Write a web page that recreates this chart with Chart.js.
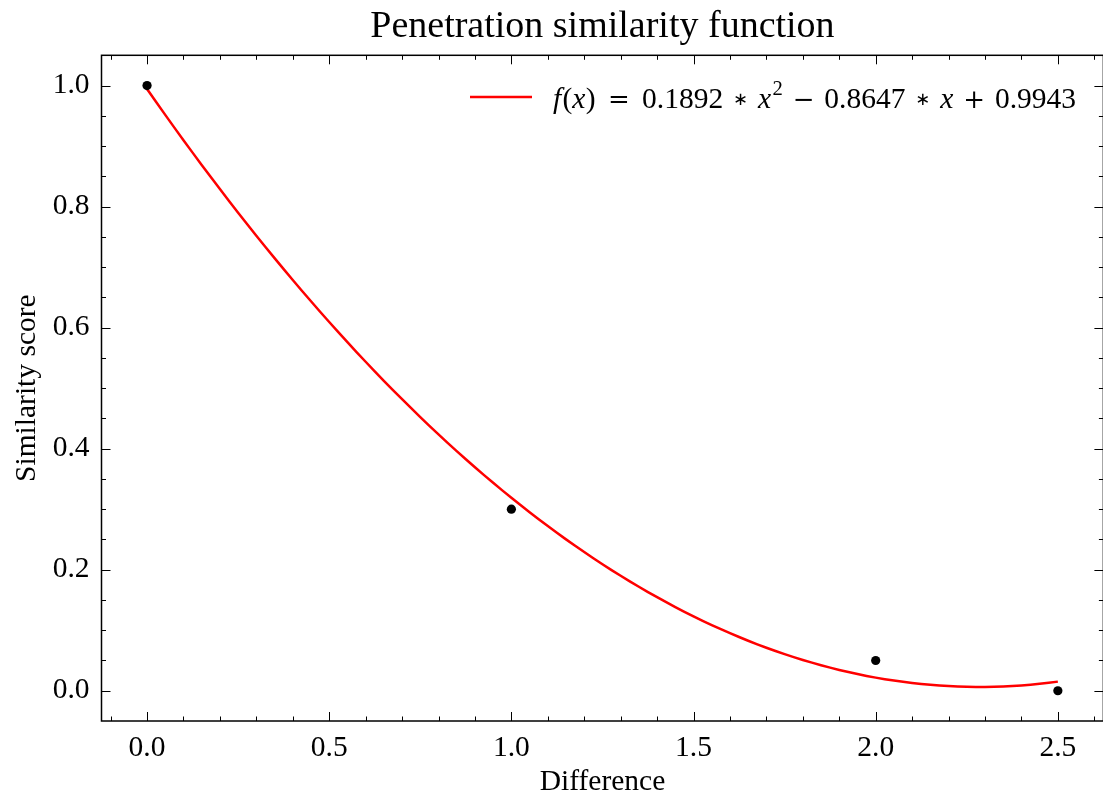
<!DOCTYPE html>
<html>
<head>
<meta charset="utf-8">
<script src="https://cdn.jsdelivr.net/npm/chart.js@4.4.1/dist/chart.umd.min.js"></script>
<style>
  html, body { margin: 0; padding: 0; background: #fff; overflow: hidden; }
  #wrap { position: relative; width: 1108px; height: 802px; }
</style>
</head>
<body>
<div id="wrap"><canvas id="chart"></canvas></div>
<script>
// Measured similarity scores
const diffValues = [0, 1, 2, 2.5];
const scoreValues = [1.0, 0.3, 0.05, 0.0];

// Quadratic fit: f(x) = a*x^2 + b*x + c
const fitCoeffs = [0.1892, -0.8647, 0.9943];
const fitRange = [0, 2.5];
const fitSteps = 100;

// Axis ticks
const xTicks = [0, 0.5, 1.0, 1.5, 2.0, 2.5];
const yTicks = [0, 0.2, 0.4, 0.6, 0.8, 1.0];
const xLimits = [-0.125, 2.625];
const yLimits = [-0.05, 1.05];
const xMinorStep = 0.1;
const yMinorStep = 0.05;

const SERIF = '"Liberation Serif", "Times New Roman", serif';
const FONT_SIZE = 29.5;

function fitValue(x) {
  return fitCoeffs[0] * x * x + fitCoeffs[1] * x + fitCoeffs[2];
}
const fitPoints = [];
for (let i = 0; i <= fitSteps; i++) {
  const x = fitRange[0] + (fitRange[1] - fitRange[0]) * i / fitSteps;
  fitPoints.push({ x: x, y: fitValue(x) });
}
const scorePoints = diffValues.map((x, i) => ({ x: x, y: scoreValues[i] }));

// Full box with inward major/minor ticks on all four sides
const framePlugin = {
  id: 'frame',
  afterDraw(chart) {
    const { ctx, chartArea: a, scales } = chart;
    const xs = scales.x, ys = scales.y;
    ctx.save();
    ctx.strokeStyle = '#000';
    ctx.lineWidth = 1;
    const majLen = 9, minLen = 4.5;
    const near = (v, arr) => arr.some(t => Math.abs(t - v) < 1e-6);
    const xMin = Math.ceil(xLimits[0] / xMinorStep) * xMinorStep;
    for (let v = xMin; v <= xLimits[1] + 1e-9; v += xMinorStep) {
      const vv = Math.round(v * 1000) / 1000;
      const px = Math.round(xs.getPixelForValue(vv)) + 0.5;
      const len = near(vv, xTicks) ? majLen : minLen;
      ctx.beginPath();
      ctx.moveTo(px, a.bottom); ctx.lineTo(px, a.bottom - len);
      ctx.moveTo(px, a.top); ctx.lineTo(px, a.top + len);
      ctx.stroke();
    }
    const yMin = Math.ceil(yLimits[0] / yMinorStep) * yMinorStep;
    for (let v = yMin; v <= yLimits[1] + 1e-9; v += yMinorStep) {
      const vv = Math.round(v * 1000) / 1000;
      if (Math.abs(vv - yLimits[0]) < 1e-6 || Math.abs(vv - yLimits[1]) < 1e-6) continue;
      const py = Math.round(ys.getPixelForValue(vv)) + 0.5;
      const len = near(vv, yTicks) ? majLen : minLen;
      ctx.beginPath();
      ctx.moveTo(a.left, py); ctx.lineTo(a.left + len, py);
      ctx.moveTo(a.right, py); ctx.lineTo(a.right - len, py);
      ctx.stroke();
    }
    ctx.lineWidth = 1.5;
    ctx.strokeRect(a.left, a.top, a.right - a.left, a.bottom - a.top);
    ctx.restore();
  }
};

// Legend inside the axes (upper right) showing the fitted equation
const legendPlugin = {
  id: 'eqLegend',
  afterDraw(chart) {
    const { ctx } = chart;
    const a = fitCoeffs[0].toFixed(4);
    const b = Math.abs(fitCoeffs[1]).toFixed(4);
    const c = fitCoeffs[2].toFixed(4);
    const bSign = fitCoeffs[1] < 0 ? '\u2212' : '+';
    const cSign = fitCoeffs[2] < 0 ? '\u2212' : '+';
    // [text, style, space before (relative units)]
    const pieces = [
      ['f', 'i', 0], ['(', 'r', 0.12], ['x', 'i', 0], [')', 'r', 0.05],
      ['=', 'rel', 1.25], [a, 'r', 1.25],
      ['\u2217', 'op', 1], ['x', 'i', 1], ['2', 'sup', 0.15],
      [bSign, 'rel', 1], [b, 'r', 1], ['\u2217', 'op', 1], ['x', 'i', 1],
      [cSign, 'rel', 1], [c, 'r', 1]
    ];
    const styles = {
      r:   { font: `${FONT_SIZE}px ${SERIF}`, dy: 0 },
      i:   { font: `italic ${FONT_SIZE}px ${SERIF}`, dy: 0 },
      rel: { font: `26px "DejaVu Serif", serif`, dy: 0 },
      sup: { font: `${FONT_SIZE * 0.7}px ${SERIF}`, dy: -13 },
      op:  { font: `18px "DejaVu Sans", sans-serif`, dy: -3 }
    };
    const startX = 553, endX = 1076;
    const baseY = 107.5;
    ctx.save();
    let glyphW = 0, gapUnits = 0;
    const widths = pieces.map(p => {
      ctx.font = styles[p[1]].font;
      const w = ctx.measureText(p[0]).width;
      glyphW += w; gapUnits += p[2];
      return w;
    });
    const unit = Math.max(0, (endX - startX - glyphW) / gapUnits);
    ctx.strokeStyle = '#ff0000';
    ctx.lineWidth = 2.5;
    ctx.beginPath();
    ctx.moveTo(470, 97); ctx.lineTo(532, 97);
    ctx.stroke();
    ctx.fillStyle = '#000';
    ctx.textBaseline = 'alphabetic';
    ctx.textAlign = 'left';
    let x = startX;
    pieces.forEach((p, i) => {
      const st = styles[p[1]];
      x += p[2] * unit;
      ctx.font = st.font;
      ctx.fillText(p[0], x, baseY + st.dy);
      x += widths[i];
    });
    ctx.restore();
  }
};

new Chart(document.getElementById('chart'), {
  type: 'scatter',
  data: {
    datasets: [
      {
        label: 'f(x) = 0.1892 * x^2 - 0.8647 * x + 0.9943',
        data: fitPoints,
        showLine: true,
        borderColor: '#ff0000',
        borderWidth: 2.5,
        pointRadius: 0,
        tension: 0,
        order: 2
      },
      {
        label: 'Similarity score',
        data: scorePoints,
        backgroundColor: '#000',
        borderColor: '#000',
        pointRadius: 4.6,
        borderWidth: 0,
        order: 1
      }
    ]
  },
  options: {
    responsive: true,
    maintainAspectRatio: false,
    animation: false,
    devicePixelRatio: 1,
    layout: { padding: { left: 0, right: 2.4, top: 0, bottom: 0 } },
    plugins: {
      legend: { display: false },
      tooltip: { enabled: false },
      title: {
        display: true,
        fullSize: false,
        text: 'Penetration similarity function',
        color: '#000',
        font: { family: SERIF, size: 38, weight: 'normal', lineHeight: 1.2 },
        padding: { top: 4, bottom: 5.7 }
      }
    },
    scales: {
      x: {
        type: 'linear',
        min: xLimits[0],
        max: xLimits[1],
        grid: { display: false, drawTicks: false },
        border: { display: false },
        afterBuildTicks: s => { s.ticks = xTicks.map(v => ({ value: v })); },
        afterFit: s => { s.height = 81; },
        ticks: {
          color: '#000',
          padding: 10,
          maxRotation: 0,
          font: { family: SERIF, size: FONT_SIZE },
          callback: v => Number(v).toFixed(1)
        },
        title: {
          display: true,
          text: 'Difference',
          color: '#000',
          font: { family: SERIF, size: FONT_SIZE },
          padding: { top: 0, bottom: 2 }
        }
      },
      y: {
        type: 'linear',
        min: yLimits[0],
        max: yLimits[1],
        grid: { display: false, drawTicks: false },
        border: { display: false },
        afterBuildTicks: s => { s.ticks = yTicks.map(v => ({ value: v })); },
        afterFit: s => { s.width = 101.5; },
        ticks: {
          color: '#000',
          padding: 12,
          font: { family: SERIF, size: FONT_SIZE },
          callback: v => Number(v).toFixed(1)
        },
        title: {
          display: true,
          text: 'Similarity score',
          color: '#000',
          font: { family: SERIF, size: FONT_SIZE },
          padding: { top: 10, bottom: 0 }
        }
      }
    }
  },
  plugins: [framePlugin, legendPlugin]
});
</script>
</body>
</html>
